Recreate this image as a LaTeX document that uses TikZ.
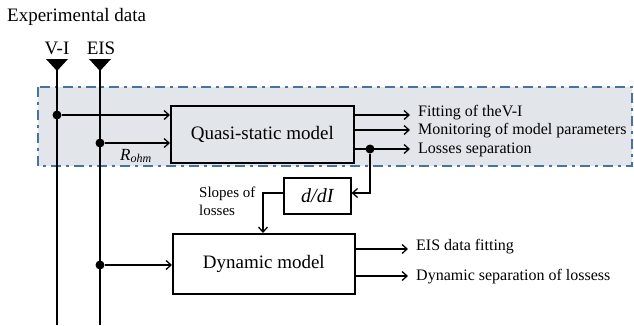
\documentclass[tikz,border=0pt]{standalone}
\usepackage{fontspec}
\setmainfont{Liberation Serif}
\usetikzlibrary{arrows.meta}
\definecolor{bandfill}{RGB}{226,229,234}
\definecolor{bandline}{RGB}{74,114,160}
\begin{document}
\begin{tikzpicture}[x=1pt,y=-1pt,
  wire/.style={line width=1.6pt},
  arr/.style={wire,-{Straight Barb[length=5pt,width=9pt,line width=1.3pt]}},
  blk/.style={draw,line width=1.6pt,minimum width=183pt,inner sep=0pt,font=\fontsize{19}{21}\selectfont},
  dotnode/.style={circle,fill=black,inner sep=0pt,minimum size=9pt},
  outlbl/.style={anchor=west,inner sep=0pt,font=\fontsize{16}{18}\selectfont},
  toplbl/.style={inner sep=0pt,font=\fontsize{19}{21}\selectfont}]
\useasboundingbox (0,0) rectangle (634,325);
% band
\filldraw[fill=bandfill,draw=bandline,line width=1.8pt,dash pattern=on 10pt off 5pt on 3pt off 5pt] (38,87) rectangle (632,166);
% texts top
\node[toplbl,anchor=west] (exp) at (7,17) {Experimental data};
\node[toplbl] (vi) at (57,48) {V-I};
\node[toplbl] (eis) at (101,48) {EIS};
% triangles
\coordinate (viT) at (57,60);
\coordinate (eisT) at (100,60);
\fill (46,59) -- (68,59) -- (57,71) -- cycle;
\fill (89,59) -- (111,59) -- (100,71) -- cycle;
\coordinate (viB) at (57,325);
\coordinate (eisB) at (100,325);
\draw[wire] (viT) -- (viB);
\draw[wire] (eisT) -- (eisB);
% boxes
\node[blk,minimum height=57pt,anchor=north west] (qs) at (170,105) {Quasi-static model};
\node[blk,minimum height=60pt,anchor=north west,minimum width=182pt] (dyn) at (172,233) {Dynamic model};
\node[draw,line width=1.6pt,minimum width=67pt,minimum height=36pt,anchor=north west,inner sep=0pt,font=\fontsize{20}{22}\selectfont\itshape] (ddi) at (283,177) {d/dI};
% junctions
\node[dotnode] (j1) at (57,115) {};
\node[dotnode] (j2) at (100,143) {};
\node[dotnode] (j3) at (100,265) {};
\draw[arr] (j1) -- (j1 -| qs.west);
\draw[arr] (j2) -- (j2 -| qs.west);
\draw[arr] (j3) -- (j3 -| dyn.west);
\node[inner sep=0pt,font=\fontsize{17}{19}\selectfont\itshape] (rohm) at (136,156) {R\textsubscript{\fontsize{12}{13}\selectfont ohm}};
% quasi-static outputs
\coordinate (o1) at (410,115);
\coordinate (o2) at (410,130);
\coordinate (o3) at (410,149);
\draw[arr] (o1 -| qs.east) -- (o1);
\draw[arr] (o2 -| qs.east) -- (o2);
\draw[arr] (o3 -| qs.east) -- (o3);
\node[outlbl] (t1) at (418,113) {Fitting of theV-I};
\node[outlbl] (t2) at (418,131) {Monitoring of model parameters};
\node[outlbl] (t3) at (418,150) {Losses separation};
\node[dotnode] (j4) at (370,149) {};
\coordinate (k1) at (370,193);
\draw[arr] (j4) -- (k1) -- (k1 -| ddi.east);
\coordinate (k2) at (263,193);
\draw[arr] (k2 -| ddi.west) -- (k2) -- (k2 |- dyn.north);
\node[anchor=west,inner sep=0pt,align=left,font=\fontsize{15}{18}\selectfont] (slopes) at (199,201) {Slopes of\\losses};
% dynamic outputs
\coordinate (d1) at (408,249);
\coordinate (d2) at (408,276);
\draw[arr] (d1 -| dyn.east) -- (d1);
\draw[arr] (d2 -| dyn.east) -- (d2);
\node[outlbl] (t4) at (416,247) {EIS data fitting};
\node[outlbl] (t5) at (416,277) {Dynamic separation of lossess};
\end{tikzpicture}
\end{document}
